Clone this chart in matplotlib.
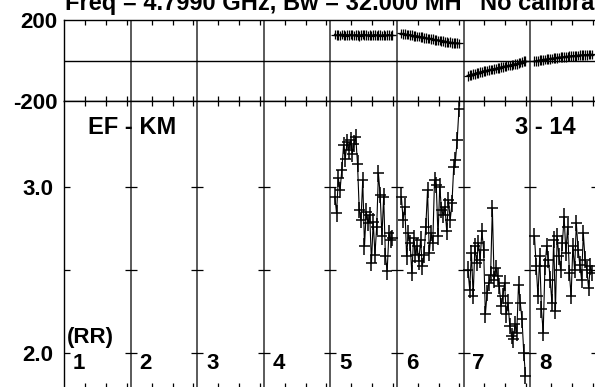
import numpy as np
import matplotlib
matplotlib.use("Agg")
import matplotlib.pyplot as plt

plt.rcParams['font.family'] = ['Liberation Sans', 'DejaVu Sans']
plt.rcParams['font.weight'] = 'bold'

# Baseline EF-KM, RR polarisation, scans 1..9 (only 5-8 have data)
n_panels = 9
panel_labels = ['1', '2', '3', '4', '5', '6', '7', '8']
phase_ticks = [-200, 200]
amp_ticks = [2.0, 2.5, 3.0]
amp_ticklabels = ['2.0', '', '3.0']

# integration times within a scan, as fraction of the scan window
frac = np.linspace(0.065, 0.93, 34)

amp5 = [2.94, 2.84, 3.05, 2.98, 3.10, 3.25, 3.17, 3.27, 3.22, 3.28, 3.20, 3.26,
        3.30, 3.14, 2.86, 2.80, 3.04, 2.64, 2.85, 2.78, 2.83, 2.54, 2.79, 2.59,
        2.76, 3.08, 2.95, 2.70, 2.94, 2.58, 2.49, 2.72, 2.68, 2.69]
amp6 = [2.94, 2.80, 2.88, 2.58, 2.72, 2.66, 2.48, 2.69, 2.59, 2.64, 2.55, 2.68,
        2.52, 2.59, 2.76, 2.98, 2.60, 2.72, 2.66, 3.04, 3.01, 2.70, 3.00, 2.86,
        2.83, 2.88, 2.73, 2.92, 2.80, 2.90, 3.12, 3.16, 3.28, 3.47]
amp7 = [2.50, 2.38, 2.60, 2.34, 2.64, 2.54, 2.66, 2.56, 2.73, 2.62, 2.23, 2.36,
        2.42, 2.47, 2.87, 2.44, 2.51, 2.46, 2.40, 2.28, 2.34, 2.42, 2.23, 2.30,
        2.16, 2.10, 2.08, 2.17, 2.12, 2.41, 2.30, 2.20, 2.00, 1.86]
amp8 = [2.70, 2.52, 2.34, 2.58, 2.26, 2.12, 2.52, 2.64, 2.56, 2.44, 2.30, 2.68,
        2.25, 2.70, 2.58, 2.50, 2.66, 2.82, 2.60, 2.76, 2.48, 2.34, 2.64, 2.50,
        2.78, 2.62, 2.53, 2.44, 2.72, 2.56, 2.50, 2.39, 2.52, 2.48]

ph5 = [128, 125, 127, 124, 129, 126, 123, 127, 125, 128, 126, 124, 127, 125,
       122, 126, 128, 125, 127, 124, 126, 123, 125, 127, 124, 126, 125, 123,
       126, 124, 125, 127, 124, 126]
ph6 = [134, 131, 131, 128, 128, 125, 125, 121, 122, 118, 119, 115, 115, 112,
       112, 109, 109, 105, 106, 102, 102, 99, 99, 95, 96, 92, 93, 89, 90, 87,
       88, 85, 86, 84]
ph7 = [-76, -72, -71, -67, -66, -62, -61, -57, -57, -53, -52, -49, -48, -45,
       -44, -41, -40, -37, -36, -33, -32, -29, -28, -25, -24, -21, -20, -17,
       -16, -13, -10, -7, -4, -1]
ph8 = [-4, -2, -1, 1, 2, 4, 5, 6, 8, 9, 10, 11, 12, 14, 15, 16, 17, 18, 19,
       20, 21, 22, 23, 23, 24, 25, 26, 26, 27, 28, 28, 29, 29, 30]

scans = {5: (amp5, ph5), 6: (amp6, ph6), 7: (amp7, ph7), 8: (amp8, ph8)}

W, H = 595, 387
fig = plt.figure(figsize=(W / 100, H / 100), dpi=100)
x0, pw = 64.3, 66.55
ax_ph = fig.add_axes([x0 / W, 1 - 101 / H, n_panels * pw / W, 81 / H])
ax_amp = fig.add_axes([x0 / W, 1 - 388 / H, n_panels * pw / W, 287 / H])

xt = [p + f for p in range(n_panels) for f in (0.311, 0.627, 0.938)]
for ax in (ax_ph, ax_amp):
    ax.set_xlim(0, n_panels)
    for s in ax.spines.values():
        s.set_linewidth(1.0)
    ax.set_xticks(xt)
    ax.tick_params(axis='x', direction='in', length=3.5, width=0.9,
                   top=True, bottom=True, labelbottom=False)
    for k in range(1, n_panels):
        ax.axvline(k, color='0.3', lw=1.3, zorder=1)

ax_ph.set_ylim(-200, 200)
ax_ph.axhline(0, color='black', lw=1.0)
ax_ph.set_yticks(phase_ticks, labels=[str(v) for v in phase_ticks])
ax_ph.tick_params(axis='y', length=0, pad=5, labelsize=16)

ax_amp.set_ylim(1.786, 3.517)
ax_amp.set_yticks(amp_ticks, labels=amp_ticklabels)
ax_amp.tick_params(axis='y', direction='in', length=4.5, width=0.9, pad=8,
                   labelsize=16)
for k in range(1, n_panels):
    ax_amp.plot([k] * len(amp_ticks), amp_ticks, ls='none', marker='_',
                ms=8, mew=0.9, color='black', zorder=3)

for p, (amp, ph) in scans.items():
    x = p - 1 + frac
    ax_amp.errorbar(x, amp, xerr=0.08, yerr=0.05, fmt='-', color='black',
                    lw=0.8, elinewidth=1.1, capsize=0, zorder=4)
    ax_ph.errorbar(x, ph, xerr=0.06, yerr=24, fmt='-', color='black',
                   lw=1.2, elinewidth=0.9, capsize=0, zorder=4)

# panel numbers and polarisation
for i, lab in enumerate(panel_labels):
    ax_amp.text(i + 0.13, 2.0, lab, fontsize=16, fontweight='bold',
                ha='left', va='top')
ax_amp.text(0.04, 2.0 + 9.5 / 166, '(RR)', fontsize=16, fontweight='bold',
            ha='left', va='baseline')

fig.text(88 / W, 1 - 134 / H, 'EF - KM', fontsize=17, fontweight='bold',
         ha='left', va='baseline')
fig.text(515 / W, 1 - 134 / H, '3 - 14', fontsize=17, fontweight='bold',
         ha='left', va='baseline')

fig.text(65 / W, 1 - 10 / H, 'Freq = 4.7990 GHz, Bw = 32.000 MH',
         fontsize=17, fontweight='bold', ha='left', va='baseline')
fig.text(480 / W, 1 - 10 / H, 'No calibration', fontsize=17,
         fontweight='bold', ha='left', va='baseline')

fig.savefig('out.png', dpi=100)
